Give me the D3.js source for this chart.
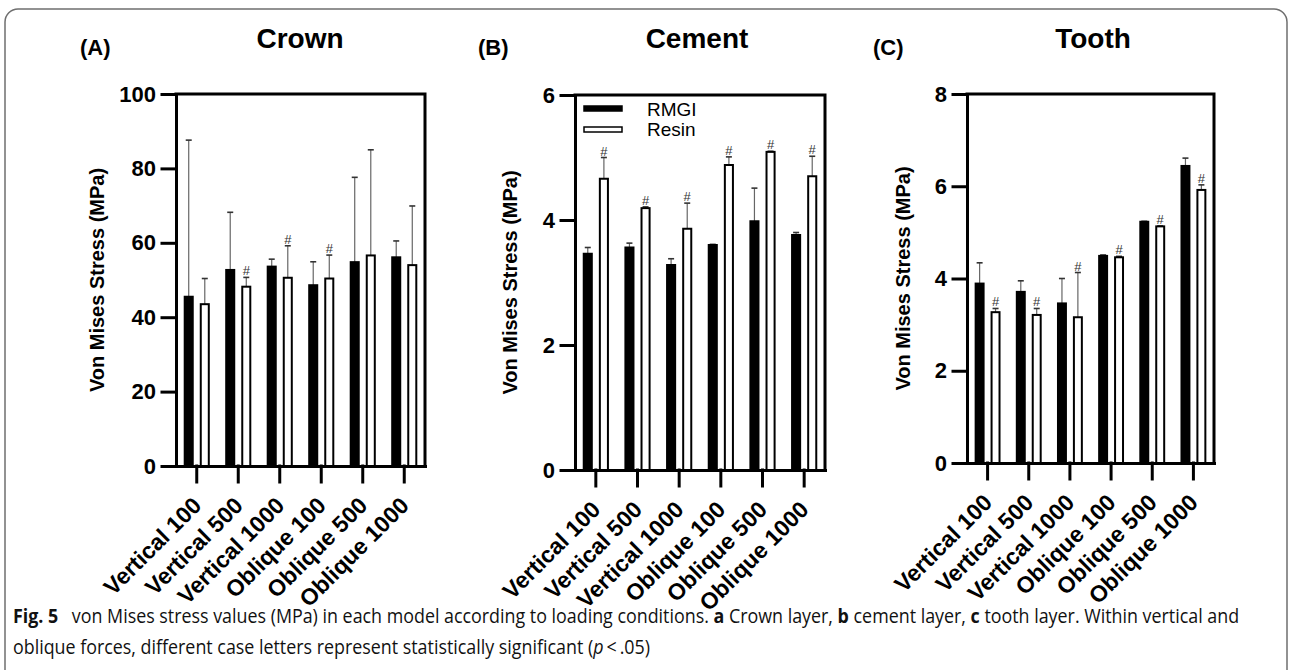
<!DOCTYPE html>
<html>
<head>
<meta charset="utf-8">
<script src="https://cdn.jsdelivr.net/npm/d3@7"></script>
<style>
  body { margin: 0; background: #fff; }
  svg { display: block; font-family: "Liberation Sans", Arial, Helvetica, sans-serif; }
  .caption { font-family: "Open Sans", "DejaVu Sans", sans-serif; }
</style>
</head>
<body>
<svg id="fig" width="1290" height="670"></svg>
<script>
// loading conditions (x categories) and the two cements
var conditions = ["Vertical 100", "Vertical 500", "Vertical 1000", "Oblique 100", "Oblique 500", "Oblique 1000"];
var groups = ["RMGI", "Resin"];

// (A) crown layer, MPa
var crownRmgi = [45.5, 52.7, 53.6, 48.6, 54.8, 56.1];
var crownRmgiSd = [42.1, 15.5, 2.0, 6.3, 22.8, 4.4];
var crownResin = [43.5, 48.2, 50.6, 50.4, 56.6, 54.0];
var crownResinSd = [6.9, 2.5, 8.6, 6.3, 28.4, 15.9];
var crownSig = [0, 1, 1, 1, 0, 0];
var crownTicks = [0, 20, 40, 60, 80, 100];

// (B) cement layer, MPa
var cementRmgi = [3.46, 3.56, 3.28, 3.60, 3.98, 3.76];
var cementRmgiSd = [0.10, 0.07, 0.10, 0.01, 0.53, 0.04];
var cementResin = [4.66, 4.19, 3.86, 4.88, 5.09, 4.70];
var cementResinSd = [0.34, 0.02, 0.41, 0.13, 0.01, 0.32];
var cementSig = [1, 1, 1, 1, 1, 1];
var cementTicks = [0, 2, 4, 6];

// (C) tooth layer, MPa
var toothRmgi = [3.89, 3.71, 3.46, 4.49, 5.23, 6.44];
var toothRmgiSd = [0.45, 0.24, 0.54, 0.02, 0.01, 0.17];
var toothResin = [3.27, 3.21, 3.16, 4.46, 5.13, 5.92];
var toothResinSd = [0.08, 0.14, 0.97, 0.02, 0.01, 0.11];
var toothSig = [1, 1, 1, 1, 1, 1];
var toothTicks = [0, 2, 4, 6, 8];

var FIG = {

  config: {
    axisWidth: 3,
    tickSize: 14,
    tickFont: 22,
    xTickFont: 23,
    labelFont: 20
  },

  panels: [
    { letter: "(A)", title: "Crown", letterX: 80, titleX: 300, left: 176, right: 425, top: 94, zero: 466, labelX: 97,
      rmgi: crownRmgi, rmgiSd: crownRmgiSd, resin: crownResin, resinSd: crownResinSd, sig: crownSig, ticks: crownTicks },
    { letter: "(B)", title: "Cement", letterX: 478, titleX: 697, left: 575, right: 825, top: 95, zero: 470, labelX: 510,
      rmgi: cementRmgi, rmgiSd: cementRmgiSd, resin: cementResin, resinSd: cementResinSd, sig: cementSig, ticks: cementTicks, legend: true },
    { letter: "(C)", title: "Tooth", letterX: 873, titleX: 1093, left: 967, right: 1214, top: 94, zero: 463, labelX: 903,
      rmgi: toothRmgi, rmgiSd: toothRmgiSd, resin: toothResin, resinSd: toothResinSd, sig: toothSig, ticks: toothTicks }
  ],

  frame: function frame() {
    d3.select("#fig").append("rect")
        .attr("x", 5).attr("y", 9)
        .attr("width", 1282).attr("height", 680)
        .attr("rx", 13)
        .attr("fill", "none")
        .attr("stroke", "#6f6f6f")
        .attr("stroke-width", 1.5)
    ;
  },

  panel: function panel(p) {
    var cfg = FIG.config;
    var svg = d3.select("#fig");
    var g = svg.append("g").attr("class", "panel");

    var x = d3.scaleBand().domain(conditions).range([p.left, p.right]);
    var sub = d3.scaleBand().domain(groups)
      .range([0, x.bandwidth()])
      .paddingInner(0.375)
      .paddingOuter(0.48);
    var y = d3.scaleLinear().domain([0, d3.max(p.ticks)]).range([p.zero, p.top]);

    var rows = [];
    conditions.forEach(function(c, i) {
      rows.push({ cond: c, grp: "RMGI", mean: p.rmgi[i], sd: p.rmgiSd[i], sig: false });
      rows.push({ cond: c, grp: "Resin", mean: p.resin[i], sd: p.resinSd[i], sig: !!p.sig[i] });
    });
    var cx = function(d) { return x(d.cond) + sub(d.grp) + sub.bandwidth() / 2; };

    // error bars (upper only)
    var err = g.append("g").selectAll("g").data(rows).enter().append("g");
    err.append("line")
        .attr("x1", cx).attr("x2", cx)
        .attr("y1", function(d) { return y(d.mean); })
        .attr("y2", function(d) { return y(d.mean + d.sd); })
        .attr("stroke", "#666").attr("stroke-width", 1.2)
    ;
    err.append("line")
        .attr("x1", function(d) { return cx(d) - 3; })
        .attr("x2", function(d) { return cx(d) + 3; })
        .attr("y1", function(d) { return y(d.mean + d.sd); })
        .attr("y2", function(d) { return y(d.mean + d.sd); })
        .attr("stroke", "#333").attr("stroke-width", 1.6)
    ;

    g.append("g").selectAll("rect").data(rows).enter().append("rect")
        .attr("x", function(d) { return x(d.cond) + sub(d.grp) + 1; })
        .attr("width", sub.bandwidth() - 2)
        .attr("y", function(d) { return y(d.mean); })
        .attr("height", function(d) { return p.zero - y(d.mean); })
        .attr("fill", function(d) { return d.grp === "RMGI" ? "#000" : "#fff"; })
        .attr("stroke", "#000")
        .attr("stroke-width", 2)
    ;

    g.append("g").selectAll("text").data(rows.filter(function(d) { return d.sig; })).enter().append("text")
        .attr("x", cx)
        .attr("y", function(d) { return y(d.mean + d.sd) - 2; })
        .attr("text-anchor", "middle")
        .attr("font-size", 13)
        .attr("fill", "#333")
        .text("#")
    ;

    // box
    g.append("path")
        .attr("d", "M" + p.left + "," + p.top + "H" + p.right + "V" + p.zero)
        .attr("fill", "none")
        .attr("stroke", "#000")
        .attr("stroke-width", cfg.axisWidth)
        .attr("stroke-linecap", "square")
    ;

    var yAxis = g.append("g")
        .attr("transform", "translate(" + p.left + ",0)")
        .call(d3.axisLeft(y).tickValues(p.ticks).tickFormat(d3.format("d"))
          .tickSize(cfg.tickSize).tickSizeOuter(0).tickPadding(6))
    ;
    var xAxis = g.append("g")
        .attr("transform", "translate(0," + p.zero + ")")
        .call(d3.axisBottom(x).tickSize(cfg.tickSize + 2).tickSizeOuter(0))
    ;
    [yAxis, xAxis].forEach(function(a) {
      a.selectAll("path, line").attr("stroke", "#000").attr("stroke-width", cfg.axisWidth).attr("stroke-linecap", "square");
      a.selectAll("text")
          .attr("fill", "#000")
          .attr("font-size", cfg.tickFont)
          .attr("font-weight", "bold")
          .attr("font-family", null);
    });
    xAxis.selectAll("text")
        .attr("x", 0).attr("y", 0).attr("dy", null)
        .attr("font-size", cfg.xTickFont)
        .attr("text-anchor", "end")
        .attr("transform", "translate(6,41) rotate(-45)")
    ;

    g.append("text")
        .attr("transform", "translate(" + p.labelX + "," + (p.top + p.zero) / 2 + ") rotate(-90)")
        .attr("dy", "0.35em")
        .attr("text-anchor", "middle")
        .attr("font-size", cfg.labelFont)
        .attr("font-weight", "bold")
        .text("Von Mises Stress (MPa)")
    ;
    g.append("text")
        .attr("x", p.letterX).attr("y", 55)
        .attr("font-size", 22).attr("font-weight", "bold")
        .text(p.letter)
    ;
    g.append("text")
        .attr("x", p.titleX).attr("y", 48)
        .attr("text-anchor", "middle")
        .attr("font-size", 28).attr("font-weight", "bold")
        .text(p.title)
    ;

    if (p.legend) FIG.addLegend(g, p);
  },

  addLegend: function(g, p) {
    var lg = g.append("g").attr("class", "legend");
    lg.selectAll("rect").data(groups).enter().append("rect")
        .attr("x", p.left + 9)
        .attr("y", function(d, i) { return 106 + i * 21; })
        .attr("width", 38)
        .attr("height", 5)
        .attr("fill", function(d) { return d === "RMGI" ? "#000" : "#fff"; })
        .attr("stroke", "#000")
        .attr("stroke-width", 1.5)
    ;
    lg.selectAll("text").data(groups).enter().append("text")
        .attr("x", p.left + 72)
        .attr("y", function(d, i) { return 116 + i * 20; })
        .attr("font-size", 19)
        .text(function(d) { return d; })
    ;
  },

  caption: function() {
    var svg = d3.select("#fig");
    var c = svg.append("g").attr("class", "caption").attr("fill", "#111");
    var l1 = c.append("text").attr("x", 0).attr("y", 623).attr("font-size", 19.5);
    var parts1 = [
      ["Fig. 5", true], ["\u2002 von Mises stress values (MPa) in each model according to loading conditions. ", false],
      ["a", true], [" Crown layer, ", false], ["b", true], [" cement layer, ", false],
      ["c", true], [" tooth layer. Within vertical and", false]
    ];
    parts1.forEach(function(t) {
      l1.append("tspan").attr("font-weight", t[1] ? "bold" : null).text(t[0]);
    });
    var l2 = c.append("text").attr("x", 0).attr("y", 654).attr("font-size", 19.5);
    l2.append("tspan").text("oblique forces, different case letters represent statistically significant (");
    l2.append("tspan").attr("font-style", "italic").text("p");
    l2.append("tspan").text("\u2009<\u2009.05)");

    // squeeze horizontally like a condensed face, first line fills the column
    var k = 1227 / l1.node().getComputedTextLength();
    c.attr("transform", "translate(13,0) scale(" + k + ",1)");
  }
};

FIG.frame();
FIG.panels.forEach(FIG.panel);
FIG.caption();
</script>
</body>
</html>
